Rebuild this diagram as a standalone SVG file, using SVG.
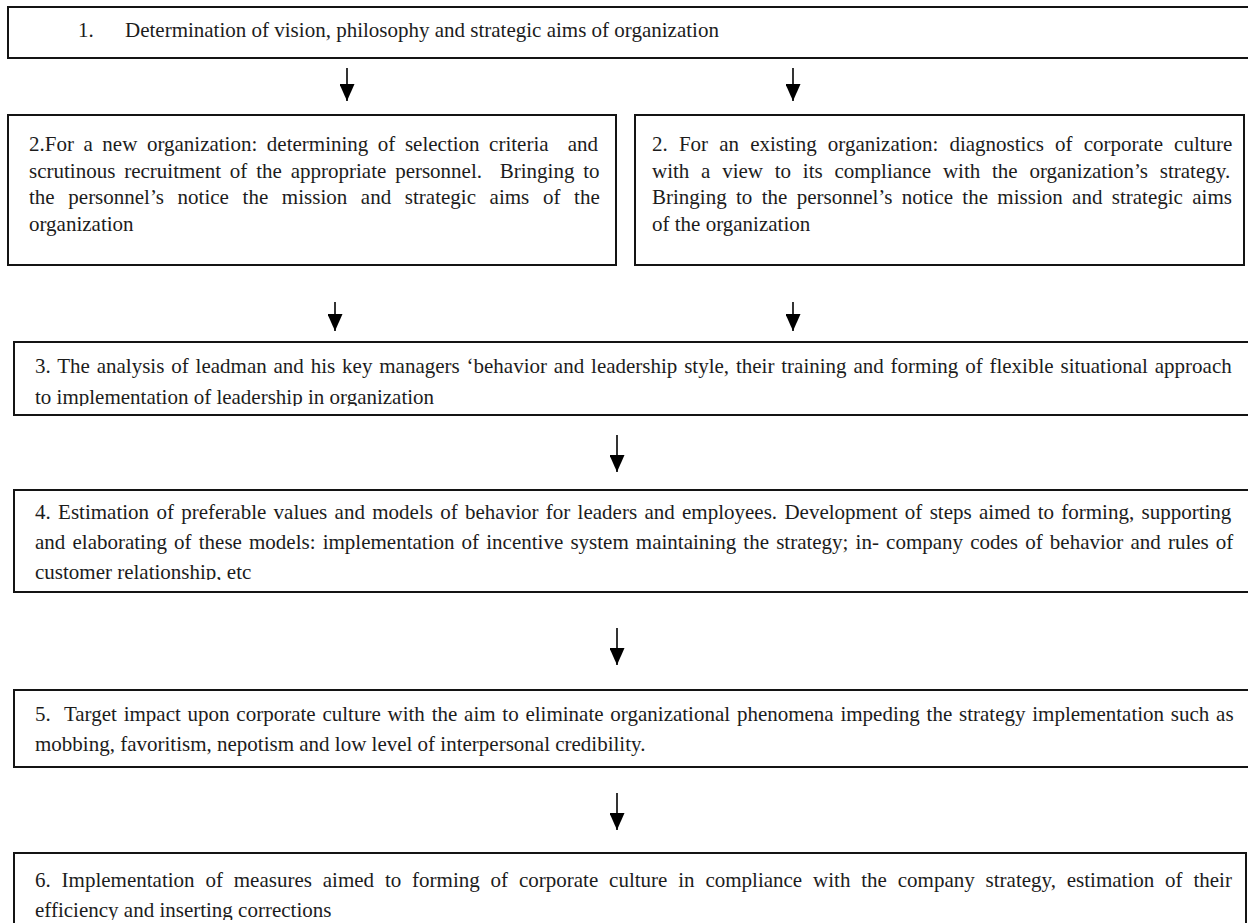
<svg xmlns="http://www.w3.org/2000/svg" width="1248" height="923" viewBox="0 0 1248 923">
  <style>
    .box { fill: #ffffff; stroke: #141414; stroke-width: 2; }
    .txt { font-family: "Liberation Serif", "Times New Roman", serif; font-size: 21px; fill: #1c1c1c; }
    .link { stroke: #000; stroke-width: 1.6; fill: none; marker-end: url(#head); }
  </style>
  <defs>
    <!-- solid triangular arrowhead, tip at the end of the line -->
    <marker id="head" markerUnits="userSpaceOnUse" markerWidth="17" markerHeight="15" viewBox="0 0 17 15" refX="17" refY="7.5" orient="auto">
      <path d="M0,0 L17,7.5 L0,15 Z" fill="#000"/>
    </marker>
    <clipPath id="clip3"><rect x="14" y="342" width="1240" height="64"/></clipPath>
    <clipPath id="clip4"><rect x="14" y="490" width="1240" height="90"/></clipPath>
    <clipPath id="clip6"><rect x="14" y="853" width="1240" height="67"/></clipPath>
  </defs>
  <rect width="1248" height="923" fill="#ffffff"/>

  <g id="connectors">
    <line class="link" x1="347" y1="68" x2="347" y2="101"/>
    <line class="link" x1="793" y1="68" x2="793" y2="101"/>
    <line class="link" x1="335" y1="302" x2="335" y2="331"/>
    <line class="link" x1="793" y1="302" x2="793" y2="331"/>
    <line class="link" x1="617" y1="435" x2="617" y2="472"/>
    <line class="link" x1="617" y1="628" x2="617" y2="665"/>
    <line class="link" x1="617" y1="793" x2="617" y2="830"/>
  </g>

  <g id="step1">
    <rect class="box" x="8" y="7" width="1262" height="51"/>
    <text class="txt" x="78" y="37">1.</text>
    <text class="txt" x="125" y="37">Determination of vision, philosophy and strategic aims of organization</text>
  </g>

  <g id="step2-new">
    <rect class="box" x="8" y="115" width="608" height="150"/>
    <text class="txt" x="29" y="151" word-spacing="4.3">2.For a new organization: determining of selection criteria&#160; and</text>
    <text class="txt" x="29" y="177.5" word-spacing="3.6">scrutinous recruitment of the appropriate personnel.&#160; Bringing to</text>
    <text class="txt" x="29" y="204" word-spacing="8.4">the personnel’s notice the mission and strategic aims of the</text>
    <text class="txt" x="29" y="230.5">organization</text>
  </g>

  <g id="step2-existing">
    <rect class="box" x="635" y="115" width="609" height="150"/>
    <text class="txt" x="652" y="151" word-spacing="5.9">2. For an existing organization: diagnostics of corporate culture</text>
    <text class="txt" x="652" y="177.5" word-spacing="6.5">with a view to its compliance with the organization’s strategy.</text>
    <text class="txt" x="652" y="204" word-spacing="4.1">Bringing to the personnel’s notice the mission and strategic aims</text>
    <text class="txt" x="652" y="230.5">of the organization</text>
  </g>

  <g id="step3">
    <rect class="box" x="14" y="342" width="1256" height="73"/>
    <g clip-path="url(#clip3)">
      <text class="txt" x="35" y="373" word-spacing="1.6">3. The analysis of leadman and his key managers ‘behavior and leadership style, their training and forming of flexible situational approach</text>
      <text class="txt" x="35" y="404">to implementation of leadership in organization</text>
    </g>
  </g>

  <g id="step4">
    <rect class="box" x="14" y="490" width="1256" height="102"/>
    <g clip-path="url(#clip4)">
      <text class="txt" x="35" y="519" word-spacing="2.07">4. Estimation of preferable values and models of behavior for leaders and employees. Development of steps aimed to forming, supporting</text>
      <text class="txt" x="35" y="548.5" word-spacing="1.9">and elaborating of these models: implementation of incentive system maintaining the strategy; in- company codes of behavior and rules of</text>
      <text class="txt" x="35" y="578.5">customer relationship, etc</text>
    </g>
  </g>

  <g id="step5">
    <rect class="box" x="14" y="690" width="1256" height="77"/>
    <text class="txt" x="35" y="721" word-spacing="1.53">5.&#160; Target impact upon corporate culture with the aim to eliminate organizational phenomena impeding the strategy implementation such as</text>
    <text class="txt" x="35" y="751">mobbing, favoritism, nepotism and low level of interpersonal credibility.</text>
  </g>

  <g id="step6">
    <rect class="box" x="14" y="853" width="1232" height="100"/>
    <g clip-path="url(#clip6)">
      <text class="txt" x="35" y="887" word-spacing="5.6">6. Implementation of measures aimed to forming of corporate culture in compliance with the company strategy, estimation of their</text>
      <text class="txt" x="35" y="917">efficiency and inserting corrections</text>
    </g>
  </g>
</svg>
